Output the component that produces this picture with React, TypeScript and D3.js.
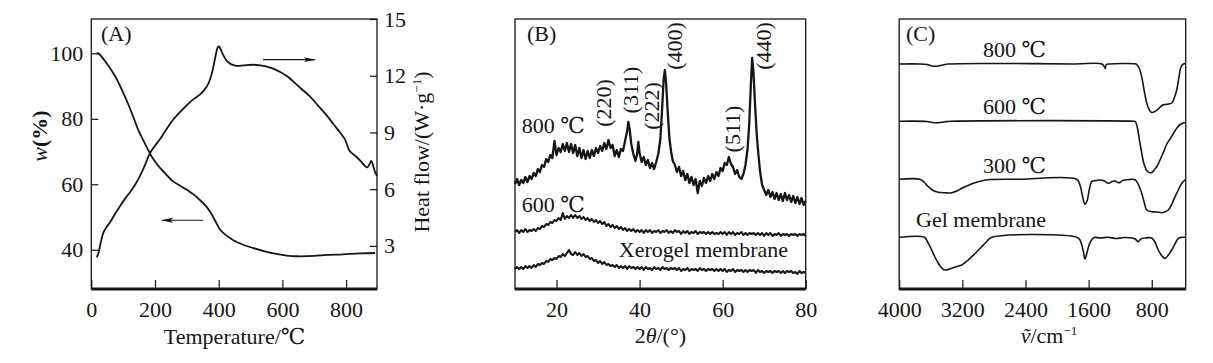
import React, { useRef, useEffect } from "react";
import * as d3 from "d3";

// ---------- (A) TG / DSC ----------
const tgCurve: [number, number][] = [
  [17, 100], [22, 100], [48, 97], [75, 93], [100, 88], [118, 84], [132, 80.5], [148, 76.5],
  [163, 73.5], [177, 70.8], [190, 68.4], [203, 66.6], [216, 65], [237, 62.8], [258, 60.8],
  [280, 59.5], [300, 58.3], [320, 57], [341, 55.2], [360, 53.3], [373, 51.6], [388, 49],
  [404, 46.2], [425, 44.3], [446, 42.9], [475, 41.6], [509, 40.5], [545, 39.5], [582, 38.7],
  [620, 38.1], [645, 38], [700, 38.1], [739, 38.4], [790, 38.6], [844, 38.9], [891, 39],
];
const dscCurve: [number, number][] = [
  [17, 2.4], [22, 2.6], [30, 3.2], [38, 3.7], [48, 4.0], [59, 4.25], [75, 4.7], [90, 5.1],
  [106, 5.5], [122, 5.85], [138, 6.25], [153, 6.7], [168, 7.25], [184, 7.9], [200, 8.3],
  [216, 8.65], [237, 9.2], [258, 9.7], [280, 10.1], [300, 10.45], [320, 10.75], [341, 11.0],
  [355, 11.25], [368, 11.6], [378, 12.1], [386, 12.7], [392, 13.2], [397, 13.5], [401, 13.55],
  [406, 13.4], [414, 13.1], [425, 12.8], [440, 12.6], [457, 12.52], [480, 12.55], [509, 12.58],
  [530, 12.55], [551, 12.48], [575, 12.35], [593, 12.2], [614, 11.98], [634, 11.7], [660, 11.3],
  [687, 10.9], [713, 10.4], [739, 9.9], [760, 9.45], [781, 9.0], [796, 8.65], [802, 8.4],
  [810, 8.05], [822, 7.85], [833, 7.7], [845, 7.5], [858, 7.25], [866, 7.15], [873, 7.3],
  [879, 7.5], [884, 7.3], [891, 6.9], [897, 6.7],
];
const tempTicks = [0, 200, 400, 600, 800];
const weightTicks = [40, 60, 80, 100];
const heatTicks = [3, 6, 9, 12, 15];
// arrows: [from, to] in data units (left arrow on weight axis, right arrow on heat axis)
const weightArrow: [number, number][] = [[351, 49], [222, 49]];
const heatArrow: [number, number][] = [[539, 12.85], [702, 12.85]];

// ---------- (B) XRD ----------
const xrd800: [number, number][] = [
  [10, 105], [10.5, 110], [11, 104], [11.5, 109], [12, 106], [12.5, 112], [13, 107], [13.5, 113],
  [14, 110], [14.5, 116], [15, 113], [15.5, 120], [16, 117], [16.5, 124], [17, 122], [17.5, 130],
  [18, 127], [18.5, 134], [19, 131], [19.5, 148], [20, 134], [20.5, 141], [21, 137], [21.5, 145],
  [22, 138], [22.5, 146], [23, 137], [23.5, 145], [24, 136], [24.5, 144], [25, 133], [25.5, 141],
  [26, 131], [26.5, 139], [27, 130], [27.5, 138], [28, 131], [28.5, 139], [29, 133], [29.5, 141],
  [30, 136], [30.5, 143], [31, 138], [31.5, 146], [32, 140], [32.5, 149], [33, 141], [33.5, 144],
  [34, 133], [34.5, 139], [35, 132], [35.5, 140], [36, 138], [36.5, 148], [37, 158], [37.3, 167],
  [37.6, 160], [38, 145], [38.5, 135], [39, 128], [39.4, 135], [39.7, 147], [40, 136], [40.5, 127],
  [41, 132], [41.5, 124], [42, 129], [42.5, 121], [43, 126], [43.5, 120], [44, 127], [44.5, 135],
  [45, 150], [45.4, 178], [45.8, 210], [46.1, 219], [46.4, 205], [46.8, 175], [47.2, 150],
  [47.6, 137], [48, 128], [48.5, 124], [49, 117], [49.5, 122], [50, 113], [50.5, 118], [51, 109],
  [51.5, 115], [52, 106], [52.5, 112], [53, 104], [53.5, 110], [54, 96], [54.5, 108], [55, 103],
  [55.5, 111], [56, 106], [56.5, 113], [57, 108], [57.5, 115], [58, 110], [58.5, 117], [59, 113],
  [59.5, 121], [60, 118], [60.5, 126], [61, 124], [61.5, 132], [62, 125], [62.5, 122], [63, 115],
  [63.5, 119], [64, 112], [64.5, 110], [65, 115], [65.5, 124], [66, 140], [66.4, 165], [66.8, 205],
  [67.1, 231], [67.4, 218], [67.8, 185], [68.2, 155], [68.6, 135], [69, 118], [69.5, 104],
  [70, 99], [70.5, 94], [71, 99], [71.5, 92], [72, 97], [72.5, 90], [73, 96], [73.5, 89],
  [74, 95], [74.5, 88], [75, 96], [75.5, 89], [76, 94], [76.5, 87], [77, 93], [77.5, 86],
  [78, 92], [78.5, 85], [79, 91], [79.5, 84], [80, 88],
];
// 600 °C and xerogel: read every 0.5° from 10° to 80°
const xrdGrid = d3.range(10, 80.01, 0.5);
const xrd600 = [
  57, 59, 56, 59, 57, 60, 57, 59, 58, 60, 58, 61, 60, 63, 62, 65, 64, 67, 66, 69,
  68, 71, 69, 76, 70, 73, 71, 74, 71, 74, 71, 73, 70, 72, 69, 71, 68, 70, 67, 69,
  66, 68, 65, 67, 63, 65, 62, 64, 61, 63, 60, 62, 59, 61, 58, 60, 58, 60, 57, 59,
  57, 59, 56, 59, 57, 59, 56, 58, 57, 59, 56, 58, 57, 59, 56, 58, 56, 59, 57, 58,
  55, 58, 56, 58, 55, 57, 56, 58, 55, 57, 56, 57, 55, 57, 55, 57, 55, 56, 55, 57,
  55, 57, 54, 57, 55, 57, 54, 56, 55, 57, 54, 56, 54, 56, 55, 56, 54, 56, 54, 56,
  53, 56, 54, 56, 53, 55, 54, 56, 53, 55, 54, 55, 53, 55, 54, 55, 53, 55, 54, 55,
  53,
];
const xrdXerogel = [
  20, 22, 20, 22, 20, 23, 21, 23, 21, 24, 22, 25, 24, 26, 25, 28, 27, 30, 29, 31,
  30, 33, 32, 35, 33, 36, 39, 35, 34, 37, 34, 36, 33, 35, 32, 33, 30, 31, 28, 29,
  26, 28, 25, 27, 24, 25, 23, 24, 22, 24, 21, 23, 21, 23, 20, 23, 21, 22, 20, 22,
  20, 22, 19, 22, 20, 21, 19, 22, 20, 21, 19, 22, 20, 21, 19, 21, 20, 21, 19, 21,
  18, 20, 19, 21, 18, 20, 19, 20, 18, 21, 19, 20, 18, 20, 19, 20, 18, 20, 18, 20,
  18, 20, 17, 19, 18, 20, 17, 19, 18, 19, 17, 19, 17, 19, 18, 19, 16, 19, 17, 18,
  16, 18, 17, 18, 16, 18, 17, 18, 16, 18, 16, 18, 17, 18, 16, 17, 15, 18, 16, 17,
  16,
];
const angleTicks = [20, 40, 60, 80];
const peakLabels = [
  { hkl: "(220)", angle: 31.2, level: 186 },
  { hkl: "(311)", angle: 37.7, level: 199 },
  { hkl: "(222)", angle: 42.7, level: 183 },
  { hkl: "(400)", angle: 48.3, level: 243 },
  { hkl: "(511)", angle: 62.25, level: 160 },
  { hkl: "(440)", angle: 69.7, level: 243 },
];

// ---------- (C) FTIR ----------
const ir800: [number, number][] = [
  [4000, 225], [3750, 225], [3650, 224.5], [3580, 223], [3525, 222.8], [3450, 224], [3380, 225],
  [2600, 225.5], [1800, 225], [1430, 225], [1400, 222], [1390, 220.5], [1375, 224.5], [1340, 225],
  [1000, 225], [991, 224.5], [960, 221], [927, 212], [895, 198], [864, 186], [830, 179],
  [801, 176.5], [760, 177.5], [717, 180], [672, 183.5], [632, 184.5], [590, 185], [547, 186],
  [515, 191], [484, 199], [455, 212], [430, 222], [400, 225], [370, 225.5],
];
const ir600: [number, number][] = [
  [4000, 167.7], [3650, 167.5], [3580, 166.5], [3500, 166.3], [3420, 167.2], [3350, 167.7],
  [1020, 167.7], [1010, 167.5], [990, 164], [970, 156], [950, 146], [927, 136], [905, 127],
  [885, 122], [860, 118], [822, 116.3], [790, 117], [760, 120], [730, 123], [695, 129],
  [650, 137], [610, 145], [568, 150], [530, 155], [484, 160.7], [440, 164.5], [400, 166],
  [370, 166.5],
];
const ir300: [number, number][] = [
  [4000, 109.7], [3737, 109.7], [3680, 106.5], [3631, 102.3], [3570, 98.5], [3505, 96.7],
  [3420, 96.2], [3335, 96.2], [3270, 98], [3208, 100.7], [3120, 103.8], [3040, 106.3],
  [2950, 108.2], [2871, 109.3], [2500, 109.7], [1751, 109.7], [1710, 104], [1675, 92],
  [1646, 84.7], [1620, 88], [1590, 100], [1561, 107.3], [1500, 108.5], [1456, 109],
  [1400, 108], [1351, 105.7], [1300, 107.5], [1265, 108], [1230, 106.5], [1202, 106.5],
  [1170, 108.5], [1139, 109], [1012, 109.3], [970, 104.5], [927, 95.7], [890, 85], [864, 79],
  [801, 77.3], [740, 77], [674, 76.3], [630, 77.3], [590, 79], [545, 85], [505, 92.3],
  [460, 99.5], [420, 105.7], [379, 109], [370, 109.5],
];
const irGel: [number, number][] = [
  [4000, 51.7], [3680, 51.7], [3640, 47], [3588, 39], [3545, 31.5], [3504, 25.7], [3460, 21],
  [3420, 19], [3335, 20.7], [3270, 22.5], [3208, 24], [3140, 28], [3081, 32.3], [3020, 37],
  [2955, 42.3], [2890, 47.5], [2828, 51.7], [1751, 51.7], [1710, 49], [1668, 38], [1646, 30],
  [1625, 35], [1590, 45], [1561, 49.3], [1530, 51.5], [1450, 51], [1350, 51.8], [1250, 50.5],
  [1150, 51.5], [1050, 51], [1010, 50], [970, 47.3], [940, 50], [880, 51], [801, 51],
  [760, 47], [717, 39], [670, 33], [632, 30.5], [600, 33], [547, 39], [500, 46], [463, 50.7],
  [420, 51.7], [370, 51.7],
];
const waveTicks = [4000, 3200, 2400, 1600, 800];

const FONT = '"Liberation Serif", "DejaVu Serif", "Times New Roman", serif';
const FS = 22;
const INK = "#151515";
const W = 1213;
const H = 363;
const TOP = 19;
const BOTTOM = 289;

export default function App() {
  const ref = useRef<SVGSVGElement>(null);

  useEffect(() => {
    document.body.style.margin = "0";
    if (!ref.current) return;
    const svg = d3.select(ref.current);
    svg.selectAll("*").remove();

    const defs = svg.append("defs");
    defs.append("marker")
      .attr("id", "arrowhead")
      .attr("viewBox", "0 0 12 6")
      .attr("refX", 11).attr("refY", 3)
      .attr("markerWidth", 12).attr("markerHeight", 6)
      .attr("markerUnits", "userSpaceOnUse")
      .attr("orient", "auto")
      .append("path")
      .attr("d", "M0,0.6 L12,3 L0,5.4 L2.5,3 Z")
      .attr("fill", INK);

    // frame: thin box, thick bottom axis
    const frame = (x0: number, x1: number) => {
      svg.append("rect")
        .attr("x", x0).attr("y", TOP)
        .attr("width", x1 - x0).attr("height", BOTTOM - TOP)
        .attr("fill", "none").attr("stroke", INK).attr("stroke-width", 1.3);
      svg.append("line")
        .attr("x1", x0).attr("x2", x1)
        .attr("y1", BOTTOM).attr("y2", BOTTOM)
        .attr("stroke", INK).attr("stroke-width", 3.2);
    };

    const styleAxis = (g: any) => {
      g.select(".domain").remove();
      g.selectAll(".tick line").attr("stroke", INK).attr("stroke-width", 1.2);
      g.selectAll("text").attr("fill", INK).attr("font-family", FONT).attr("font-size", FS);
    };

    const text = (x: number, y: number, s: string, anchor = "start") =>
      svg.append("text")
        .attr("x", x).attr("y", y)
        .attr("text-anchor", anchor)
        .attr("font-family", FONT).attr("font-size", FS)
        .attr("fill", INK)
        .text(s);

    // ================= (A) =================
    const ax = d3.scaleLinear().domain([0, 897]).range([91.3, 377]);
    const ayL = d3.scaleLinear().domain([28, 110.5]).range([BOTTOM, TOP]);
    const ayR = d3.scaleLinear().domain([0.72, 15]).range([BOTTOM, TOP]);
    frame(91.3, 377);

    svg.append("g").attr("transform", `translate(0,${BOTTOM})`)
      .call(d3.axisBottom(ax).tickValues(tempTicks).tickSize(-9).tickPadding(12).tickFormat(d3.format("d")))
      .call(styleAxis);
    svg.append("g").attr("transform", `translate(91.3,0)`)
      .call(d3.axisLeft(ayL).tickValues(weightTicks).tickSize(-7).tickPadding(8))
      .call(styleAxis);
    svg.append("g").attr("transform", `translate(377,0)`)
      .call(d3.axisRight(ayR).tickValues(heatTicks).tickSize(-7).tickPadding(7))
      .call(styleAxis);

    const tgLine = d3.line<[number, number]>()
      .x(d => ax(d[0])).y(d => ayL(d[1])).curve(d3.curveCatmullRom);
    const dscLine = d3.line<[number, number]>()
      .x(d => ax(d[0])).y(d => ayR(d[1])).curve(d3.curveCatmullRom);
    svg.append("path").datum(tgCurve).attr("d", tgLine)
      .attr("fill", "none").attr("stroke", INK).attr("stroke-width", 1.8);
    svg.append("path").datum(dscCurve).attr("d", dscLine)
      .attr("fill", "none").attr("stroke", INK).attr("stroke-width", 1.8);

    svg.append("line")
      .attr("x1", ax(weightArrow[0][0])).attr("y1", ayL(weightArrow[0][1]))
      .attr("x2", ax(weightArrow[1][0])).attr("y2", ayL(weightArrow[1][1]))
      .attr("stroke", INK).attr("stroke-width", 1.2).attr("marker-end", "url(#arrowhead)");
    svg.append("line")
      .attr("x1", ax(heatArrow[0][0])).attr("y1", ayR(heatArrow[0][1]))
      .attr("x2", ax(heatArrow[1][0])).attr("y2", ayR(heatArrow[1][1]))
      .attr("stroke", INK).attr("stroke-width", 1.2).attr("marker-end", "url(#arrowhead)");

    text(101, 41, "(A)");
    text(ax(450), 344, "Temperature/℃", "middle");

    const wLabel = svg.append("text")
      .attr("transform", "translate(47,136) rotate(-90)")
      .attr("text-anchor", "middle")
      .attr("font-family", FONT).attr("font-size", FS).attr("fill", INK);
    wLabel.append("tspan").attr("font-style", "italic").text("w");
    wLabel.append("tspan").attr("font-weight", "bold").text("(%)");

    const hLabel = svg.append("text")
      .attr("transform", "translate(429,152) rotate(-90)")
      .attr("text-anchor", "middle")
      .attr("font-family", FONT).attr("font-size", FS).attr("fill", INK);
    hLabel.append("tspan").text("Heat flow/(W·g");
    hLabel.append("tspan").attr("font-size", 13).attr("dy", -8).text("−1");
    hLabel.append("tspan").attr("dy", 8).text(")");

    // ================= (B) =================
    const bx = d3.scaleLinear().domain([10, 80]).range([515, 805.7]);
    const by = d3.scaleLinear().domain([0, 270]).range([BOTTOM, TOP]);
    frame(515, 805.7);
    svg.append("g").attr("transform", `translate(0,${BOTTOM})`)
      .call(d3.axisBottom(bx).tickValues(angleTicks).tickSize(-9).tickPadding(12))
      .call(styleAxis);

    const xrdLine = d3.line<[number, number]>().x(d => bx(d[0])).y(d => by(d[1]));
    const xrdSeries: [number, number][][] = [
      xrd800,
      xrdGrid.map((a, i) => [a, xrd600[i]] as [number, number]),
      xrdGrid.map((a, i) => [a, xrdXerogel[i]] as [number, number]),
    ];
    xrdSeries.forEach((s, i) => {
      svg.append("path").datum(s).attr("d", xrdLine)
        .attr("fill", "none").attr("stroke", INK)
        .attr("stroke-width", i === 0 ? 2.3 : 2.1).attr("stroke-linejoin", "round");
    });

    peakLabels.forEach(p => {
      svg.append("text")
        .attr("transform", `translate(${bx(p.angle)},${by(p.level)}) rotate(-90)`)
        .attr("dy", "0.35em")
        .attr("text-anchor", "middle")
        .attr("font-family", FONT).attr("font-size", FS).attr("fill", INK)
        .text(p.hkl);
    });

    text(527, 41, "(B)");
    text(bx(11.6), by(156), "800 ℃");
    text(bx(11.6), by(77), "600 ℃");
    text(bx(35), by(32), "Xerogel membrane");
    const bLabel = svg.append("text")
      .attr("x", bx(45)).attr("y", 343)
      .attr("text-anchor", "middle")
      .attr("font-family", FONT).attr("font-size", FS).attr("fill", INK);
    bLabel.append("tspan").text("2");
    bLabel.append("tspan").attr("font-style", "italic").text("θ");
    bLabel.append("tspan").text("/(°)");

    // ================= (C) =================
    const cx = d3.scaleLinear().domain([4000, 370]).range([899.2, 1185.7]);
    const cy = d3.scaleLinear().domain([0, 270]).range([BOTTOM, TOP]);
    frame(899.2, 1185.7);
    svg.append("g").attr("transform", `translate(0,${BOTTOM})`)
      .call(d3.axisBottom(cx).tickValues(waveTicks).tickSize(-9).tickPadding(12).tickFormat(d3.format("d")))
      .call(styleAxis);

    const irLine = d3.line<[number, number]>()
      .x(d => cx(d[0])).y(d => cy(d[1])).curve(d3.curveCatmullRom);
    [ir800, ir600, ir300, irGel].forEach(s => {
      svg.append("path").datum(s).attr("d", irLine)
        .attr("fill", "none").attr("stroke", INK).attr("stroke-width", 1.6);
    });

    text(906, 41, "(C)");
    text(983, 57, "800 ℃");
    text(983, 114, "600 ℃");
    text(983, 173, "300 ℃");
    text(916, 227, "Gel membrane");
    const cLabel = svg.append("text")
      .attr("x", 1049).attr("y", 343)
      .attr("text-anchor", "middle")
      .attr("font-family", FONT).attr("font-size", FS).attr("fill", INK);
    cLabel.append("tspan").attr("font-style", "italic").text("ṽ");
    cLabel.append("tspan").text("/cm");
    cLabel.append("tspan").attr("font-size", 13).attr("dy", -8).text("−1");
  }, []);

  return <svg ref={ref} width={W} height={H} style={{ display: "block", background: "#fff" }} />;
}
